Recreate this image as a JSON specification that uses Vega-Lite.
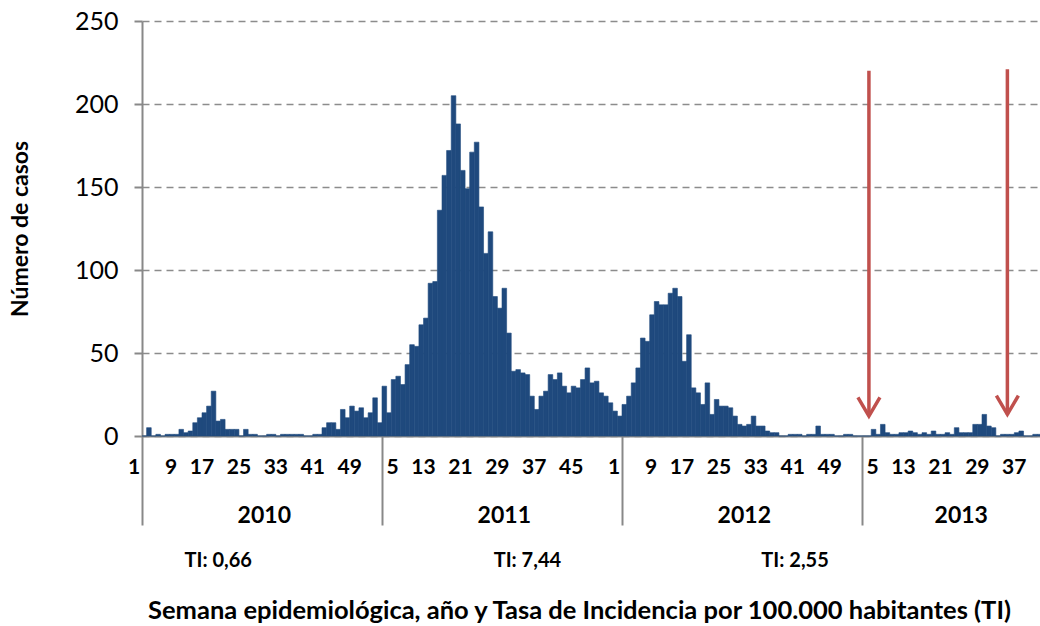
{
"$schema": "https://vega.github.io/schema/vega-lite/v6.json",
"width": 900,
"height": 415,
"autosize": {"type": "none"},
"padding": {"left": 142, "top": 21, "right": 0, "bottom": 190},
"background": "white",
"config": {"view": {"stroke": null}, "font": "Lato", "axis": {"labelFont": "Lato", "titleFont": "Lato"}},
"datasets": {
"casos": [
{"semana":"2010-1","casos":0},{"semana":"2010-2","casos":5},{"semana":"2010-3","casos":0},{"semana":"2010-4","casos":1},{"semana":"2010-5","casos":0},{"semana":"2010-6","casos":1},{"semana":"2010-7","casos":1},{"semana":"2010-8","casos":1},{"semana":"2010-9","casos":4},{"semana":"2010-10","casos":2},
{"semana":"2010-11","casos":3},{"semana":"2010-12","casos":8},{"semana":"2010-13","casos":11},{"semana":"2010-14","casos":14},{"semana":"2010-15","casos":18},{"semana":"2010-16","casos":27},{"semana":"2010-17","casos":9},{"semana":"2010-18","casos":10},{"semana":"2010-19","casos":4},{"semana":"2010-20","casos":4},
{"semana":"2010-21","casos":4},{"semana":"2010-22","casos":0},{"semana":"2010-23","casos":4},{"semana":"2010-24","casos":1},{"semana":"2010-25","casos":1},{"semana":"2010-26","casos":0},{"semana":"2010-27","casos":0},{"semana":"2010-28","casos":1},{"semana":"2010-29","casos":1},{"semana":"2010-30","casos":0},
{"semana":"2010-31","casos":1},{"semana":"2010-32","casos":1},{"semana":"2010-33","casos":1},{"semana":"2010-34","casos":1},{"semana":"2010-35","casos":1},{"semana":"2010-36","casos":0},{"semana":"2010-37","casos":0},{"semana":"2010-38","casos":1},{"semana":"2010-39","casos":1},{"semana":"2010-40","casos":5},
{"semana":"2010-41","casos":8},{"semana":"2010-42","casos":8},{"semana":"2010-43","casos":4},{"semana":"2010-44","casos":16},{"semana":"2010-45","casos":11},{"semana":"2010-46","casos":18},{"semana":"2010-47","casos":15},{"semana":"2010-48","casos":17},{"semana":"2010-49","casos":11},{"semana":"2010-50","casos":14},
{"semana":"2010-51","casos":23},{"semana":"2010-52","casos":8},
{"semana":"2011-1","casos":30},{"semana":"2011-2","casos":14},{"semana":"2011-3","casos":34},{"semana":"2011-4","casos":36},{"semana":"2011-5","casos":31},{"semana":"2011-6","casos":43},{"semana":"2011-7","casos":55},{"semana":"2011-8","casos":54},{"semana":"2011-9","casos":67},{"semana":"2011-10","casos":71},
{"semana":"2011-11","casos":92},{"semana":"2011-12","casos":93},{"semana":"2011-13","casos":136},{"semana":"2011-14","casos":157},{"semana":"2011-15","casos":172},{"semana":"2011-16","casos":205},{"semana":"2011-17","casos":188},{"semana":"2011-18","casos":160},{"semana":"2011-19","casos":149},{"semana":"2011-20","casos":171},
{"semana":"2011-21","casos":177},{"semana":"2011-22","casos":138},{"semana":"2011-23","casos":110},{"semana":"2011-24","casos":123},{"semana":"2011-25","casos":84},{"semana":"2011-26","casos":77},{"semana":"2011-27","casos":89},{"semana":"2011-28","casos":62},{"semana":"2011-29","casos":39},{"semana":"2011-30","casos":40},
{"semana":"2011-31","casos":38},{"semana":"2011-32","casos":37},{"semana":"2011-33","casos":24},{"semana":"2011-34","casos":16},{"semana":"2011-35","casos":24},{"semana":"2011-36","casos":27},{"semana":"2011-37","casos":37},{"semana":"2011-38","casos":34},{"semana":"2011-39","casos":38},{"semana":"2011-40","casos":30},
{"semana":"2011-41","casos":26},{"semana":"2011-42","casos":30},{"semana":"2011-43","casos":29},{"semana":"2011-44","casos":34},{"semana":"2011-45","casos":41},{"semana":"2011-46","casos":32},{"semana":"2011-47","casos":33},{"semana":"2011-48","casos":26},{"semana":"2011-49","casos":24},{"semana":"2011-50","casos":20},
{"semana":"2011-51","casos":15},{"semana":"2011-52","casos":12},
{"semana":"2012-1","casos":19},{"semana":"2012-2","casos":24},{"semana":"2012-3","casos":32},{"semana":"2012-4","casos":41},{"semana":"2012-5","casos":59},{"semana":"2012-6","casos":57},{"semana":"2012-7","casos":73},{"semana":"2012-8","casos":81},{"semana":"2012-9","casos":79},{"semana":"2012-10","casos":79},
{"semana":"2012-11","casos":86},{"semana":"2012-12","casos":89},{"semana":"2012-13","casos":84},{"semana":"2012-14","casos":45},{"semana":"2012-15","casos":61},{"semana":"2012-16","casos":29},{"semana":"2012-17","casos":26},{"semana":"2012-18","casos":19},{"semana":"2012-19","casos":32},{"semana":"2012-20","casos":13},
{"semana":"2012-21","casos":22},{"semana":"2012-22","casos":18},{"semana":"2012-23","casos":18},{"semana":"2012-24","casos":17},{"semana":"2012-25","casos":12},{"semana":"2012-26","casos":7},{"semana":"2012-27","casos":6},{"semana":"2012-28","casos":7},{"semana":"2012-29","casos":12},{"semana":"2012-30","casos":6},
{"semana":"2012-31","casos":6},{"semana":"2012-32","casos":3},{"semana":"2012-33","casos":2},{"semana":"2012-34","casos":2},{"semana":"2012-35","casos":0},{"semana":"2012-36","casos":0},{"semana":"2012-37","casos":1},{"semana":"2012-38","casos":1},{"semana":"2012-39","casos":1},{"semana":"2012-40","casos":0},
{"semana":"2012-41","casos":1},{"semana":"2012-42","casos":1},{"semana":"2012-43","casos":6},{"semana":"2012-44","casos":1},{"semana":"2012-45","casos":1},{"semana":"2012-46","casos":1},{"semana":"2012-47","casos":0},{"semana":"2012-48","casos":0},{"semana":"2012-49","casos":1},{"semana":"2012-50","casos":1},
{"semana":"2012-51","casos":0},{"semana":"2012-52","casos":0},
{"semana":"2013-1","casos":0},{"semana":"2013-2","casos":0},{"semana":"2013-3","casos":4},{"semana":"2013-4","casos":1},{"semana":"2013-5","casos":7},{"semana":"2013-6","casos":2},{"semana":"2013-7","casos":1},{"semana":"2013-8","casos":1},{"semana":"2013-9","casos":2},{"semana":"2013-10","casos":2},
{"semana":"2013-11","casos":3},{"semana":"2013-12","casos":2},{"semana":"2013-13","casos":1},{"semana":"2013-14","casos":2},{"semana":"2013-15","casos":1},{"semana":"2013-16","casos":3},{"semana":"2013-17","casos":1},{"semana":"2013-18","casos":1},{"semana":"2013-19","casos":2},{"semana":"2013-20","casos":1},
{"semana":"2013-21","casos":5},{"semana":"2013-22","casos":2},{"semana":"2013-23","casos":2},{"semana":"2013-24","casos":2},{"semana":"2013-25","casos":7},{"semana":"2013-26","casos":7},{"semana":"2013-27","casos":13},{"semana":"2013-28","casos":6},{"semana":"2013-29","casos":5},{"semana":"2013-30","casos":0},
{"semana":"2013-31","casos":1},{"semana":"2013-32","casos":1},{"semana":"2013-33","casos":1},{"semana":"2013-34","casos":2},{"semana":"2013-35","casos":3},{"semana":"2013-36","casos":0},{"semana":"2013-37","casos":0},{"semana":"2013-38","casos":1},{"semana":"2013-39","casos":1}
],
"flechas": [
{"semana":"2013-2","inicio":220,"fin":12},
{"semana":"2013-32","inicio":221,"fin":13}
]
},
"layer": [
{
"data": {"name": "casos"},
"mark": {"type": "bar", "color": "#1F497D", "stroke": "#1F497D", "strokeWidth": 0.6},
"encoding": {
"x": {"field": "semana", "type": "ordinal",
"scale": {"type": "band", "paddingInner": 0, "paddingOuter": 0, "domain": [
"2010-1","2010-2","2010-3","2010-4","2010-5","2010-6","2010-7","2010-8","2010-9","2010-10","2010-11","2010-12","2010-13","2010-14","2010-15","2010-16","2010-17","2010-18","2010-19","2010-20","2010-21","2010-22","2010-23","2010-24","2010-25","2010-26","2010-27","2010-28","2010-29","2010-30","2010-31","2010-32","2010-33","2010-34","2010-35","2010-36","2010-37","2010-38","2010-39","2010-40","2010-41","2010-42","2010-43","2010-44","2010-45","2010-46","2010-47","2010-48","2010-49","2010-50","2010-51","2010-52",
"2011-1","2011-2","2011-3","2011-4","2011-5","2011-6","2011-7","2011-8","2011-9","2011-10","2011-11","2011-12","2011-13","2011-14","2011-15","2011-16","2011-17","2011-18","2011-19","2011-20","2011-21","2011-22","2011-23","2011-24","2011-25","2011-26","2011-27","2011-28","2011-29","2011-30","2011-31","2011-32","2011-33","2011-34","2011-35","2011-36","2011-37","2011-38","2011-39","2011-40","2011-41","2011-42","2011-43","2011-44","2011-45","2011-46","2011-47","2011-48","2011-49","2011-50","2011-51","2011-52",
"2012-1","2012-2","2012-3","2012-4","2012-5","2012-6","2012-7","2012-8","2012-9","2012-10","2012-11","2012-12","2012-13","2012-14","2012-15","2012-16","2012-17","2012-18","2012-19","2012-20","2012-21","2012-22","2012-23","2012-24","2012-25","2012-26","2012-27","2012-28","2012-29","2012-30","2012-31","2012-32","2012-33","2012-34","2012-35","2012-36","2012-37","2012-38","2012-39","2012-40","2012-41","2012-42","2012-43","2012-44","2012-45","2012-46","2012-47","2012-48","2012-49","2012-50","2012-51","2012-52",
"2013-1","2013-2","2013-3","2013-4","2013-5","2013-6","2013-7","2013-8","2013-9","2013-10","2013-11","2013-12","2013-13","2013-14","2013-15","2013-16","2013-17","2013-18","2013-19","2013-20","2013-21","2013-22","2013-23","2013-24","2013-25","2013-26","2013-27","2013-28","2013-29","2013-30","2013-31","2013-32","2013-33","2013-34","2013-35","2013-36","2013-37","2013-38","2013-39"]},
"axis": {"orient": "bottom", "title": null,
"values": ["2010-1","2010-9","2010-17","2010-25","2010-33","2010-41","2010-49","2011-5","2011-13","2011-21","2011-29","2011-37","2011-45","2012-1","2012-9","2012-17","2012-25","2012-33","2012-41","2012-49","2013-5","2013-13","2013-21","2013-29","2013-37"],
"labelExpr": "split(datum.value, '-')[1]",
"ticks": false, "grid": false, "domain": true, "domainColor": "#888888", "domainWidth": 2,
"labelFontSize": 21, "labelFontWeight": "bold", "labelColor": "#000000", "labelAngle": 0,
"labelAlign": "right", "labelOffset": -4, "labelPadding": 20, "labelOverlap": false, "labelBound": false, "labelFlush": false}},
"y": {"field": "casos", "type": "quantitative",
"scale": {"domain": [0, 250], "nice": false},
"axis": {"orient": "left", "title": "Número de casos", "values": [0, 50, 100, 150, 200, 250],
"grid": true, "gridDash": [7, 5], "gridColor": "#8C8C8C", "gridWidth": 1.5,
"domainColor": "#888888", "domainWidth": 2, "tickColor": "#888888", "tickWidth": 2, "tickSize": 8,
"labelFontSize": 25, "labelColor": "#000000", "labelPadding": 16,
"titleFontSize": 23, "titleFontWeight": "bold", "titleColor": "#000000", "titlePadding": 42}}
}
},
{
"data": {"name": "flechas"},
"mark": {"type": "rule", "color": "#C0504D", "strokeWidth": 3.5},
"encoding": {
"x": {"field": "semana", "type": "ordinal",
"axis": {"orient": "bottom", "title": null, "values": ["2010-1","2011-1","2012-1","2013-1"], "bandPosition": 0,
"labels": false, "domain": false, "grid": false, "ticks": true, "tickSize": 89, "tickColor": "#888888", "tickWidth": 2}},
"y": {"field": "inicio", "type": "quantitative",
"axis": {"orient": "left", "title": "Número de casos", "values": [0, 50, 100, 150, 200, 250],
"grid": true, "gridDash": [7, 5], "gridColor": "#8C8C8C", "gridWidth": 1.5,
"domainColor": "#888888", "domainWidth": 2, "tickColor": "#888888", "tickWidth": 2, "tickSize": 8,
"labelFontSize": 25, "labelColor": "#000000", "labelPadding": 16,
"titleFontSize": 23, "titleFontWeight": "bold", "titleColor": "#000000", "titlePadding": 42}},
"y2": {"field": "fin"}
}
},
{
"data": {"name": "flechas"},
"mark": {"type": "point", "shape": "M-1,-1.7L0,0L1,-1.7", "size": 484, "filled": false, "color": "#C0504D", "strokeWidth": 3.5, "opacity": 1},
"encoding": {
"x": {"field": "semana", "type": "ordinal",
"axis": {"orient": "bottom", "title": null, "values": ["2010-27","2011-27","2012-27","2013-22"], "bandPosition": 0,
"labelExpr": "split(datum.value, '-')[0]",
"ticks": false, "domain": false, "grid": false,
"labelFontSize": 23, "labelFontWeight": "bold", "labelColor": "#000000", "labelAngle": 0, "labelAlign": "center",
"labelPadding": 68, "labelOverlap": false, "labelBound": false, "labelFlush": false}},
"y": {"field": "fin", "type": "quantitative",
"axis": {"orient": "left", "title": "Número de casos", "values": [0, 50, 100, 150, 200, 250],
"grid": true, "gridDash": [7, 5], "gridColor": "#8C8C8C", "gridWidth": 1.5,
"domainColor": "#888888", "domainWidth": 2, "tickColor": "#888888", "tickWidth": 2, "tickSize": 8,
"labelFontSize": 25, "labelColor": "#000000", "labelPadding": 16,
"titleFontSize": 23, "titleFontWeight": "bold", "titleColor": "#000000", "titlePadding": 42}}
}
},
{
"data": {"name": "flechas"},
"mark": {"type": "rule", "opacity": 0},
"encoding": {
"x": {"field": "semana", "type": "ordinal",
"axis": {"orient": "bottom", "values": ["2010-17","2011-32","2012-38"],
"labelExpr": "datum.value == '2010-17' ? 'TI: 0,66' : datum.value == '2011-32' ? 'TI: 7,44' : 'TI: 2,55'",
"ticks": false, "domain": false, "grid": false,
"labelFontSize": 20, "labelFontWeight": "bold", "labelColor": "#000000", "labelAngle": 0, "labelAlign": "center",
"labelPadding": 114, "labelOverlap": false, "labelBound": false, "labelFlush": false,
"title": "Semana epidemiológica,  año y Tasa de Incidencia por 100.000 habitantes (TI)",
"titleFontSize": 25.5, "titleFontWeight": "bold", "titleColor": "#000000", "titlePadding": 28, "titleX": 437}}
}
}
],
"resolve": {"axis": {"x": "independent", "y": "shared"}, "scale": {"y": "shared", "x": "shared"}}
}
